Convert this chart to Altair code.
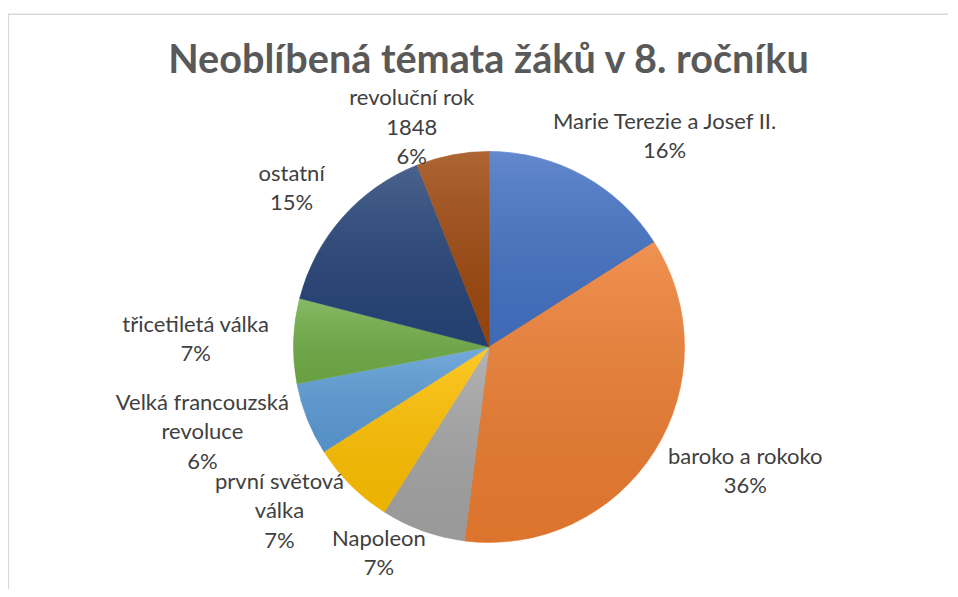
import math
import unicodedata
import altair as alt
import pandas as pd

# ---------------- data ----------------
CATEGORIES = [
    "Marie Terezie a Josef II.",
    "baroko a rokoko",
    "Napoleon",
    "první světová\nválka",
    "Velká francouzská\nrevoluce",
    "třicetiletá válka",
    "ostatní",
    "revoluční rok\n1848",
]
SHARES = [16, 36, 7, 7, 6, 7, 15, 6]
COLORS = ["#4472C4", "#ED7D31", "#A5A5A5", "#FFC000",
          "#5B9BD5", "#70AD47", "#264478", "#9E480E"]
TITLE = "Neoblíbená témata žáků v 8. ročníku"

# ---------------- layout ----------------
W, H, PAD_TOP = 940, 501, 80
CX, CY = 481, 259          # pie centre inside the view
R = 195.5                  # pie radius
LABEL_R = 220              # anchor radius for labels
SIDE_PUSH = 30             # extra sideways push for labels near the vertical axis
FS = 22
LH = 29.5
FONT = "Lato"
TITLE_Y = -15              # title baseline (view coords)
LABEL_TOP = 10             # first label line may not sit above this (below the title)

# rough glyph widths (em) used to estimate label extents
CW = {"a": .479, "b": .525, "c": .423, "d": .525, "e": .498, "f": .305, "g": .471,
      "h": .525, "i": .229, "j": .239, "k": .455, "l": .229, "m": .799, "n": .525,
      "o": .527, "p": .525, "r": .349, "s": .391, "t": .335, "u": .525, "v": .452,
      "z": .395, " ": .226, "M": .855, "T": .487, "J": .319, "I": .252, "N": .646,
      "V": .579, ".": .252, "%": .715}


def text_width(s):
    tot = 0.0
    for ch in s:
        b = unicodedata.normalize("NFD", ch)[0]
        tot += CW.get(b, .507 if b.isdigit() else .5)
    return tot * 23.5


total = sum(SHARES)
rows = []
cum = 0
for i, (cat, v) in enumerate(zip(CATEGORIES, SHARES)):
    mid = (cum + v / 2) / total * 2 * math.pi
    cum += v
    text = f"{cat}\n{v}%"
    lines = text.split("\n")
    n = len(lines)
    w = max(text_width(line) for line in lines)
    s, c = math.sin(mid), math.cos(mid)
    k = 20 if c > 0 else 12
    cx = CX + LABEL_R * s + s * w / 2 + math.copysign(SIDE_PUSH * (1 - abs(s)), s)
    cy = CY - LABEL_R * c - c * k
    cy = min(cy, H - n * LH / 2 - 6)          # keep the block inside the chart
    first = max(cy - (n - 1) * LH / 2, LABEL_TOP)   # stay below the title
    rows.append({
        "category": cat, "share": v, "order": i, "text": text,
        "lx": cx, "ly": first,
    })
df = pd.DataFrame(rows)

base = alt.Chart(df)
theta = alt.Theta("share:Q", stack=True)
order = alt.Order("order:Q")

shadow = alt.Chart(pd.DataFrame({"v": [1]})).mark_arc(
    radius=R + 1.5, color="#000000", opacity=0.10
).encode(theta=alt.Theta("v:Q"), x=alt.value(CX + 1), y=alt.value(CY + 2))

slices = base.mark_arc(radius=R, strokeWidth=0.6).encode(
    theta=theta, order=order,
    color=alt.Color("category:N", scale=alt.Scale(domain=CATEGORIES, range=COLORS), legend=None),
    stroke=alt.Stroke("category:N", scale=alt.Scale(domain=CATEGORIES, range=COLORS), legend=None),
    x=alt.value(CX), y=alt.value(CY),
)

shade = base.mark_arc(
    radius=R,
    color=alt.Gradient(
        gradient="linear", x1=0, y1=0, x2=0, y2=1,
        stops=[alt.GradientStop(color="rgba(255,255,255,0.16)", offset=0),
               alt.GradientStop(color="rgba(0,0,0,0.07)", offset=1)],
    ),
).encode(theta=theta, order=order, x=alt.value(CX), y=alt.value(CY))

labels = base.mark_text(
    font=FONT, fontSize=FS, color="#404040", align="center", baseline="middle",
    lineBreak="\n", lineHeight=LH,
).encode(
    x=alt.X("lx:Q", scale=None, axis=None),
    y=alt.Y("ly:Q", scale=None, axis=None),
    text="text:N",
)

title = alt.Chart(pd.DataFrame({"t": [TITLE]})).mark_text(
    font=FONT, fontSize=39.6, fontWeight="bold", color="#595959",
    align="center", baseline="alphabetic",
).encode(x=alt.value(480.5), y=alt.value(TITLE_Y), text="t:N")

frame_df = pd.DataFrame({"v": [0]})
top_rule = alt.Chart(frame_df).mark_rule(color="#D9D9D9", strokeWidth=1.6).encode(
    x=alt.value(0), x2=alt.value(W), y=alt.value(-73.7))
left_rule = alt.Chart(frame_df).mark_rule(color="#D9D9D9", strokeWidth=1.6).encode(
    x=alt.value(0.3), y=alt.value(-73.7), y2=alt.value(H))

chart = alt.layer(top_rule, left_rule, title, shadow, slices, shade, labels).properties(
    width=W, height=H,
    padding={"left": 0, "top": PAD_TOP, "right": 0, "bottom": 0},
    autosize="none",
).configure_view(stroke=None)

chart.save("out.html", embed_options={"renderer": "svg", "actions": False})
